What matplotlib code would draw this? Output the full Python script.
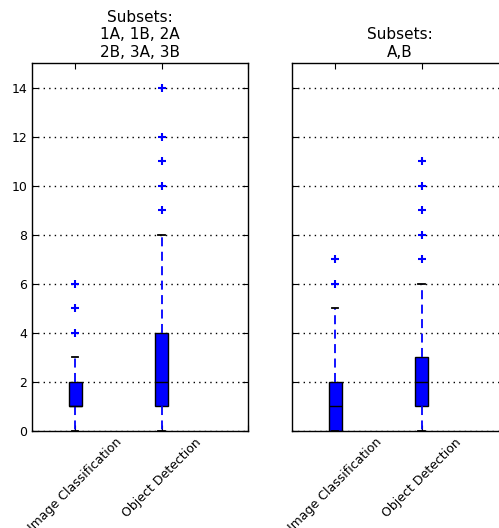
import matplotlib
matplotlib.use("Agg")
import matplotlib.pyplot as plt

# Box statistics (one dict per box)
categories = ['Image Classification', 'Object Detection']
titles = ['Subsets:\n1A, 1B, 2A\n2B, 3A, 3B', 'Subsets:\nA,B']

left_q1 = [1, 1]
left_med = [1, 2]
left_q3 = [2, 4]
left_whislo = [0, 0]
left_whishi = [3, 8]
left_fliers = [[4, 5, 6], [9, 10, 11, 12, 14]]

right_q1 = [0, 1]
right_med = [1, 2]
right_q3 = [2, 3]
right_whislo = [0, 0]
right_whishi = [5, 6]
right_fliers = [[6, 7], [7, 8, 9, 10, 11]]

y_ticks = [0, 2, 4, 6, 8, 10, 12, 14]


def make_stats(q1, med, q3, lo, hi, fliers):
    return [dict(q1=a, med=b, q3=c, whislo=d, whishi=e, fliers=f, label=lab)
            for a, b, c, d, e, f, lab in zip(q1, med, q3, lo, hi, fliers, categories)]


fig = plt.figure(figsize=(4.99, 5.28), dpi=100)
W, H = 499.0, 528.0
ax_l = fig.add_axes([32 / W, 97 / H, 216 / W, 368 / H])
ax_r = fig.add_axes([292 / W, 97 / H, 216 / W, 368 / H])

panels = [
    (ax_l, make_stats(left_q1, left_med, left_q3, left_whislo, left_whishi, left_fliers)),
    (ax_r, make_stats(right_q1, right_med, right_q3, right_whislo, right_whishi, right_fliers)),
]

for (ax, stats), title in zip(panels, titles):
    ax.bxp(stats, widths=0.15, patch_artist=True,
           boxprops=dict(facecolor='#0000ff', edgecolor='black', linewidth=1),
           medianprops=dict(color='black', linewidth=1),
           whiskerprops=dict(color='#0000ff', linestyle=(0, (5, 3)), linewidth=1.3),
           capprops=dict(color='black', linewidth=1.3),
           flierprops=dict(marker='+', markeredgecolor='#0000ff', markersize=6,
                           markeredgewidth=1.5, linestyle='none'))
    ax.set_xlim(0.5, 3)
    ax.set_ylim(0, 15)
    ax.set_yticks(y_ticks)
    ax.yaxis.grid(True, linestyle=(0, (1, 3)), color='black', linewidth=1)
    ax.set_axisbelow(True)
    ax.tick_params(direction='in', top=True, right=True, labelsize=9, length=4)
    ax.set_xticks([1, 2, 3])
    ax.set_xticklabels(categories + [''], rotation=45, ha='center', fontsize=9)
    ax.set_title(title, fontsize=11, linespacing=1.2, pad=4.5)
    for s in ax.spines.values():
        s.set_linewidth(1)

ax_r.tick_params(labelleft=False)

fig.savefig('out.png', dpi=100)
